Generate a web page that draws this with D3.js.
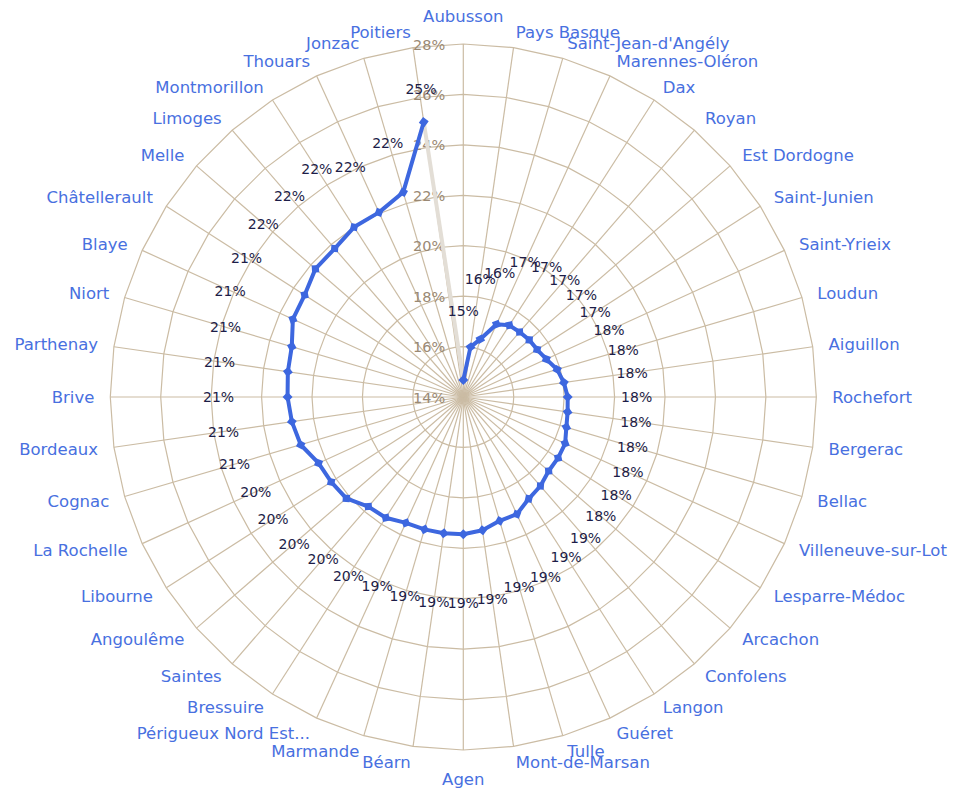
<!DOCTYPE html>
<html>
<head>
<meta charset="utf-8">
<script src="https://cdn.jsdelivr.net/npm/d3@7"></script>
<style>
  html, body { margin: 0; padding: 0; background: #ffffff; }
  svg { display: block; }
</style>
</head>
<body>
<svg id="chart" width="956" height="788"></svg>
<script>
// Territories, ordered clockwise from the top
const categories = [
  "Aubusson", "Pays Basque", "Saint-Jean-d'Angély", "Marennes-Oléron", "Dax", "Royan",
  "Est Dordogne", "Saint-Junien", "Saint-Yrieix", "Loudun", "Aiguillon", "Rochefort",
  "Bergerac", "Bellac", "Villeneuve-sur-Lot", "Lesparre-Médoc", "Arcachon", "Confolens",
  "Langon", "Guéret", "Tulle", "Mont-de-Marsan", "Agen", "Béarn", "Marmande",
  "Périgueux Nord Est...", "Bressuire", "Saintes", "Angoulême", "Libourne", "La Rochelle",
  "Cognac", "Bordeaux", "Brive", "Parthenay", "Niort", "Blaye", "Châtellerault", "Melle",
  "Limoges", "Montmorillon", "Thouars", "Jonzac", "Poitiers"
];

// Rate per territory (%)
const values = [
  14.67, 16.00, 16.39, 17.17, 17.38, 17.41, 17.46, 17.48, 17.62, 17.88, 18.03, 18.14,
  18.18, 18.26, 18.44, 18.47, 18.48, 18.67, 18.80, 19.11, 19.12, 19.34, 19.44, 19.46,
  19.47, 19.49, 19.69, 19.75, 20.14, 20.23, 20.31, 20.72, 20.87, 20.97, 21.03, 21.09,
  21.43, 21.48, 21.76, 21.79, 22.01, 22.05, 22.46, 25.02
];

// Radial axis ticks (%)
const radialTicks = [14, 16, 18, 20, 22, 24, 26, 28];

// Value labels that are pushed aside to stay readable near the top
const labelShift = { "Poitiers": [7, 35], "Jonzac": [4, 17], "Thouars": [0, 17] };

const width = 956, height = 788;
const cx = 463.3, cy = 397;
const outerR = 353;
const font = "'DejaVu Sans', 'Noto Sans', sans-serif";

const svg = d3.select("#chart");
const g = svg.append("g").attr("transform", `translate(${cx},${cy})`);

const r = d3.scaleLinear().domain([14, 28]).range([0, outerR]);
const angle = d3.scaleBand().domain(categories).range([0, 2 * Math.PI]).paddingInner(0).paddingOuter(0);

const polar = (a, rad) => [rad * Math.sin(a), -rad * Math.cos(a)];

const gridColor = "#cbbca4";

// Polygonal rings
radialTicks.filter(t => t > 14).forEach(t => {
  const line = d3.lineRadial().angle(d => angle(d)).radius(r(t)).curve(d3.curveLinearClosed);
  g.append("path")
    .attr("d", line(categories))
    .attr("fill", "none")
    .attr("stroke", gridColor)
    .attr("stroke-width", 1.2);
});

// Spokes
g.append("g").selectAll("line")
  .data(categories)
  .join("line")
  .attr("x1", 0).attr("y1", 0)
  .attr("x2", d => polar(angle(d), outerR)[0])
  .attr("y2", d => polar(angle(d), outerR)[1])
  .attr("stroke", gridColor)
  .attr("stroke-width", 1.2);

// Radial tick labels along the top axis
g.append("g").selectAll("text")
  .data(radialTicks)
  .join("text")
  .attr("x", -18)
  .attr("y", d => -r(d))
  .attr("dy", "0.38em")
  .attr("text-anchor", "end")
  .attr("font-family", font)
  .attr("font-size", 14.5)
  .attr("fill", "#9a8974")
  .text(d => d + "%");

const pts = categories.map((c, i) => ({ cat: c, v: values[i] }));

// Closing segment between the last and the first territory
const first = pts[0], last = pts[pts.length - 1];
g.append("line")
  .attr("x1", polar(angle(last.cat), r(last.v))[0])
  .attr("y1", polar(angle(last.cat), r(last.v))[1])
  .attr("x2", polar(angle(first.cat), r(first.v))[0])
  .attr("y2", polar(angle(first.cat), r(first.v))[1])
  .attr("stroke", "#e3ded6")
  .attr("stroke-width", 4);

// Series line
const seriesLine = d3.lineRadial()
  .angle(d => angle(d.cat))
  .radius(d => r(d.v));

const blue = "#3d67df";
g.append("path")
  .attr("d", seriesLine(pts))
  .attr("fill", "none")
  .attr("stroke", blue)
  .attr("stroke-width", 4)
  .attr("stroke-linejoin", "round");

// Diamond markers
const marker = d3.symbol(d3.symbolSquare, 50);
g.append("g").selectAll("path")
  .data(pts)
  .join("path")
  .attr("d", marker)
  .attr("transform", d => {
    const [x, y] = polar(angle(d.cat), r(d.v));
    return `translate(${x},${y}) rotate(${45 + angle(d.cat) * 180 / Math.PI})`;
  })
  .attr("fill", blue);

// Value labels, pushed outward from each point
const fmt = v => d3.format(".0f")(v) + "%";
g.append("g").selectAll("text")
  .data(pts)
  .join("text")
  .attr("x", d => polar(angle(d.cat), r(d.v) + 69)[0] + (labelShift[d.cat] ? labelShift[d.cat][0] : 0))
  .attr("y", d => polar(angle(d.cat), r(d.v) + 69)[1] + (labelShift[d.cat] ? labelShift[d.cat][1] : 0))
  .attr("dy", "0.36em")
  .attr("text-anchor", "middle")
  .attr("font-family", font)
  .attr("font-size", 14)
  .attr("fill", "#1d1d48")
  .text(d => fmt(d.v));

// Territory names around the grid
const labelR = 369;
g.append("g").selectAll("text")
  .data(categories)
  .join("text")
  .each(function (d) {
    const a = angle(d);
    const [x, y] = polar(a, labelR);
    const s = Math.sin(a);
    let anchor = "middle", yy = y;
    if (Math.abs(s) < 1e-6) {
      yy = Math.cos(a) > 0 ? y - 12 : y + 13;
    } else {
      anchor = s > 0 ? "start" : "end";
    }
    d3.select(this).attr("x", x).attr("y", yy).attr("dy", "0.36em").attr("text-anchor", anchor);
  })
  .attr("font-family", font)
  .attr("font-size", 16.5)
  .attr("fill", "#4870e0")
  .text(d => d);
</script>
</body>
</html>
